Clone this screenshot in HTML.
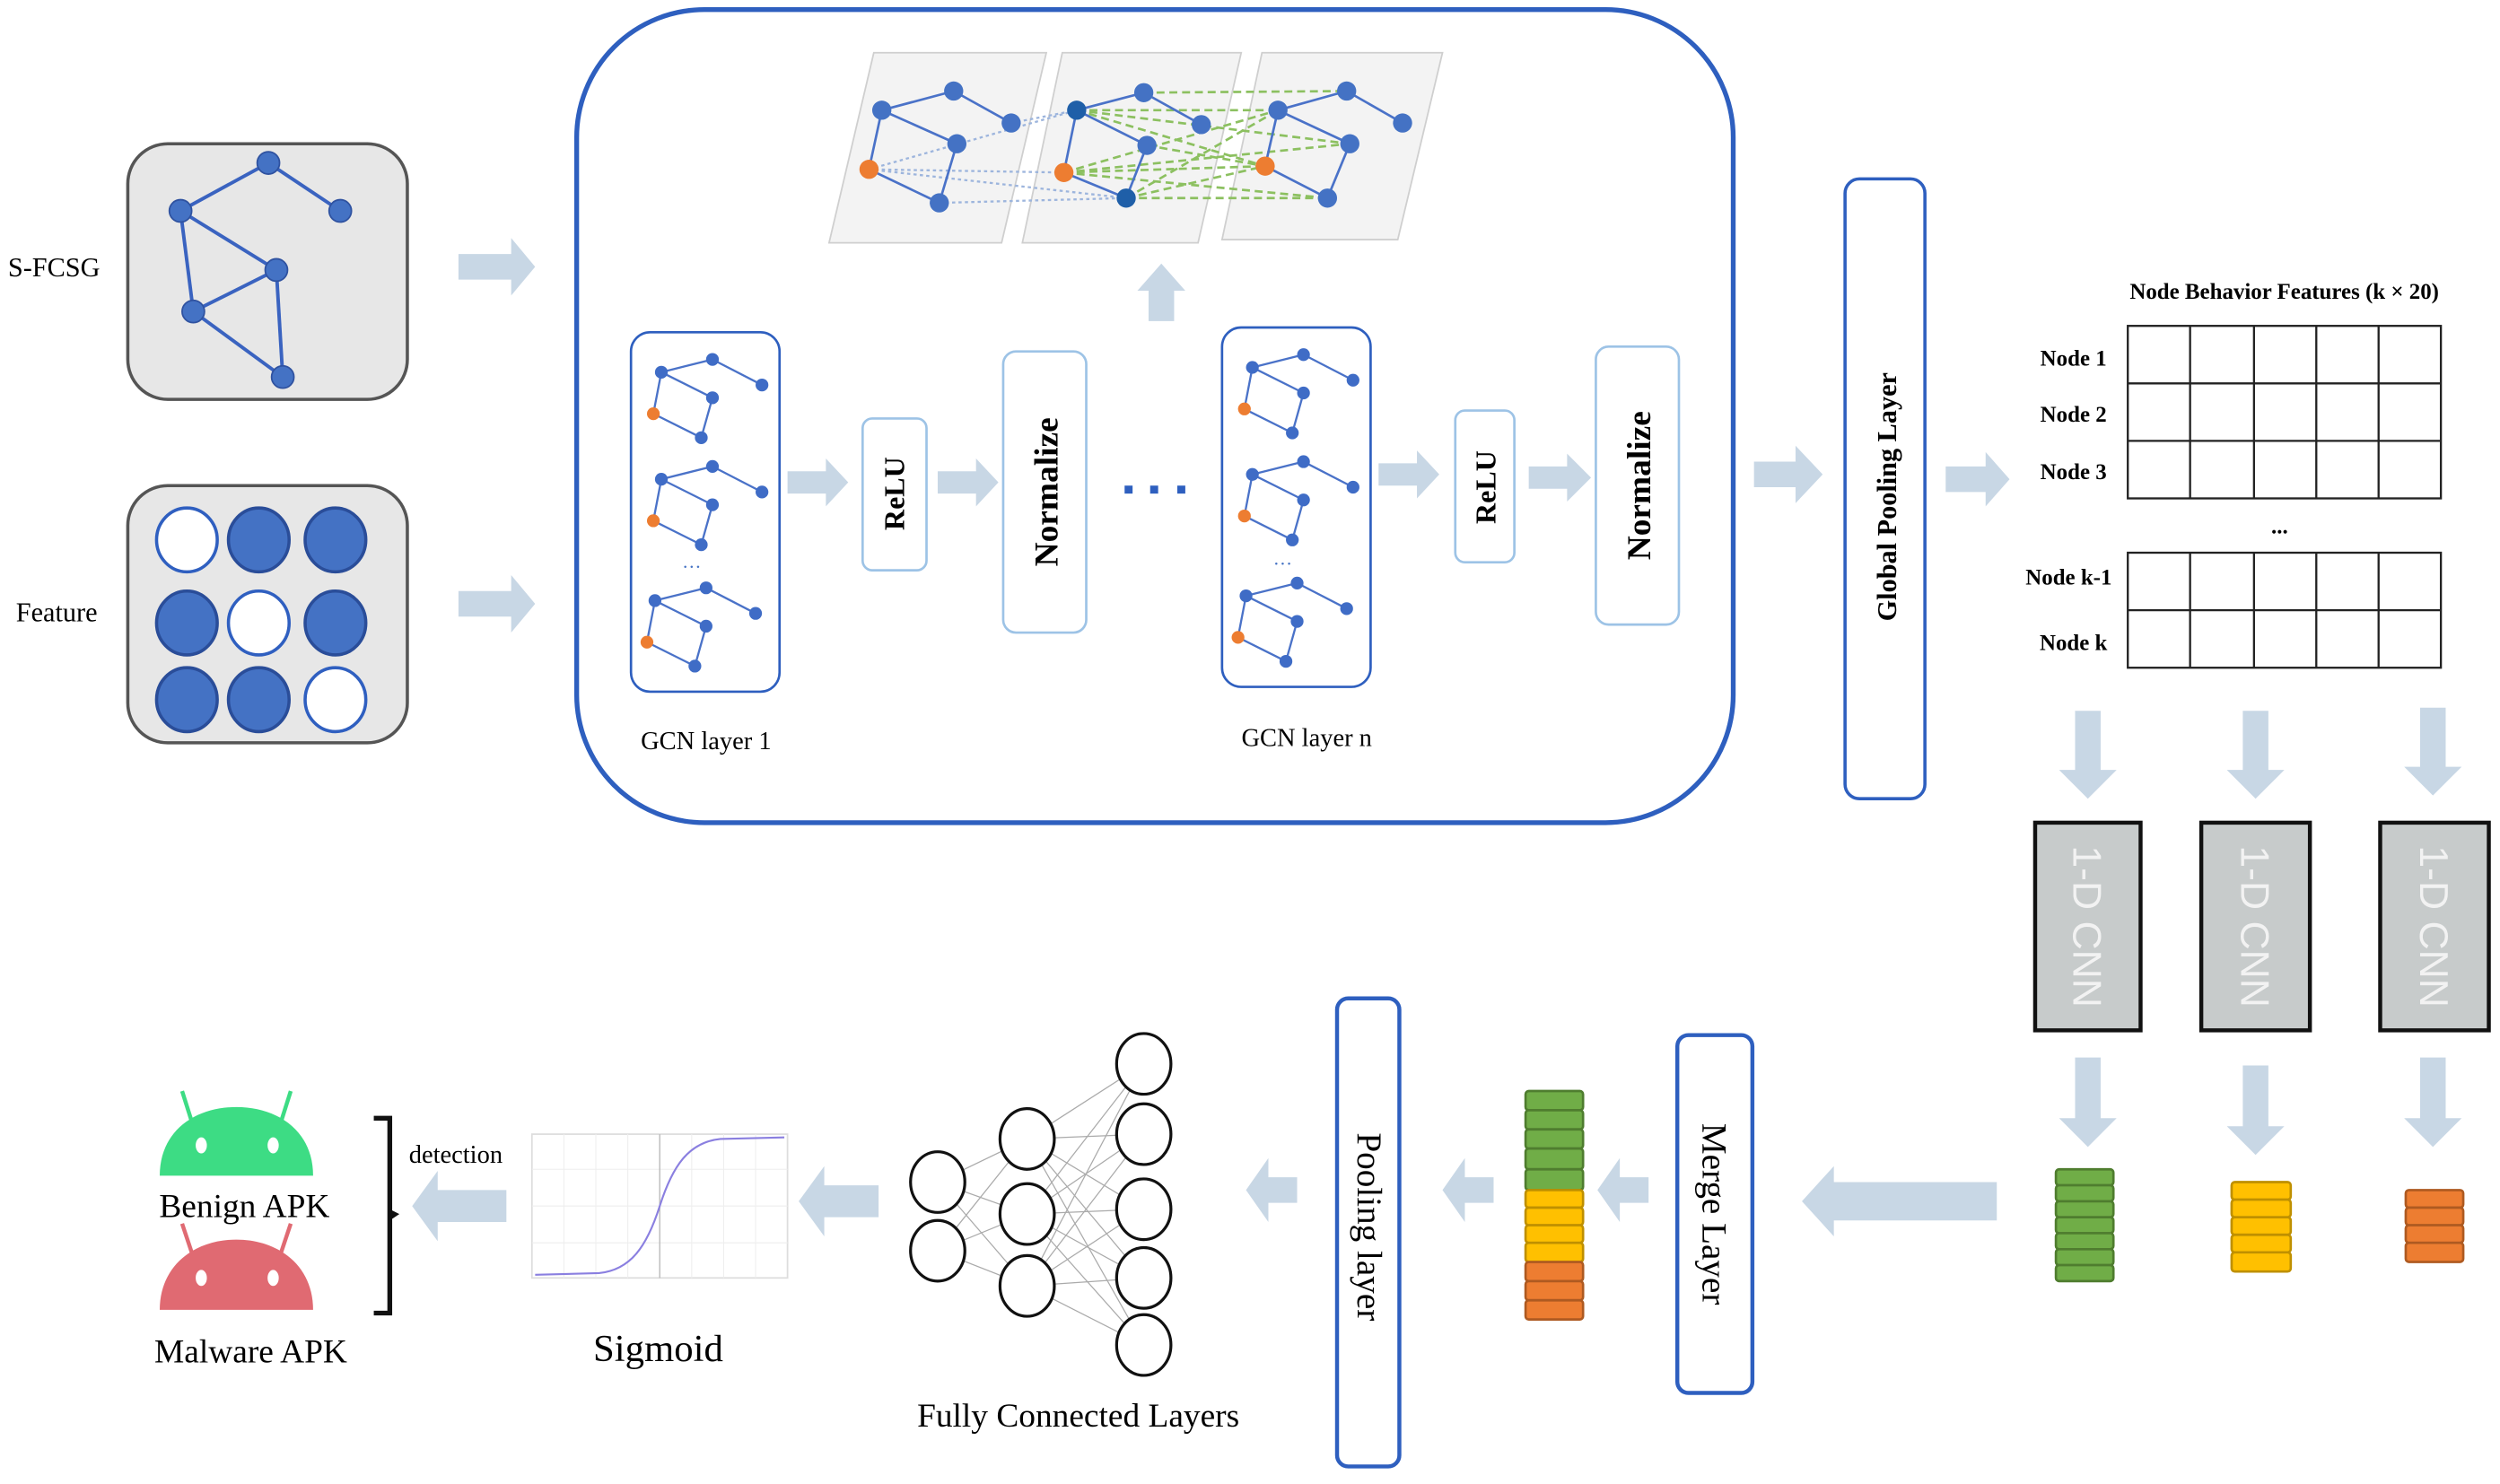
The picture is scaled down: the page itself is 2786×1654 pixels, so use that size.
<!DOCTYPE html>
<html><head><meta charset="utf-8"><style>html,body{margin:0;padding:0;background:#fff}svg{display:block}</style></head>
<body>
<svg width="2786" height="1654" viewBox="0 0 1565 929" preserveAspectRatio="none" xmlns="http://www.w3.org/2000/svg" font-family="Liberation Serif, serif">
<defs>
<g id="sg">
<g stroke="#4a72c8" stroke-width="1.3" fill="none">
<line x1="0" y1="0" x2="32" y2="-8"/><line x1="32" y1="-8" x2="63" y2="8"/><line x1="0" y1="0" x2="32" y2="16"/><line x1="0" y1="0" x2="-5" y2="26"/><line x1="32" y1="16" x2="25" y2="41"/><line x1="-5" y1="26" x2="25" y2="41"/>
</g>
<g fill="#3f6cc6"><circle cx="0" cy="0" r="4"/><circle cx="32" cy="-8" r="4"/><circle cx="63" cy="8" r="4"/><circle cx="32" cy="16" r="4"/><circle cx="25" cy="41" r="4"/></g>
<circle cx="-5" cy="26" r="4" fill="#ed7d31"/>
</g>
</defs>
<!-- left boxes -->
<text x="5" y="173" font-size="17">S-FCSG</text>
<rect x="80" y="90" width="175" height="160" rx="25" fill="#e7e7e7" stroke="#555" stroke-width="2"/>
<g stroke="#3a63c0" stroke-width="2.2">
<line x1="113" y1="132" x2="168" y2="102"/><line x1="168" y1="102" x2="213" y2="132"/><line x1="113" y1="132" x2="173" y2="169"/><line x1="113" y1="132" x2="121" y2="195"/><line x1="173" y1="169" x2="121" y2="195"/><line x1="173" y1="169" x2="177" y2="236"/><line x1="121" y1="195" x2="177" y2="236"/>
</g>
<g fill="#4472c4" stroke="#2f52a0" stroke-width="1"><circle cx="168" cy="102" r="7"/><circle cx="113" cy="132" r="7"/><circle cx="213" cy="132" r="7"/><circle cx="173" cy="169" r="7"/><circle cx="121" cy="195" r="7"/><circle cx="177" cy="236" r="7"/></g>
<text x="10" y="389" font-size="17">Feature</text>
<rect x="80" y="304" width="175" height="161" rx="25" fill="#e7e7e7" stroke="#555" stroke-width="2"/>
<g stroke="#2f5fc0" stroke-width="2">
<ellipse cx="117" cy="338" rx="19" ry="20" fill="#fff"/><ellipse cx="162" cy="338" rx="19" ry="20" fill="#4472c4" stroke="#2a4d99"/><ellipse cx="210" cy="338" rx="19" ry="20" fill="#4472c4" stroke="#2a4d99"/>
<ellipse cx="117" cy="390" rx="19" ry="20" fill="#4472c4" stroke="#2a4d99"/><ellipse cx="162" cy="390" rx="19" ry="20" fill="#fff"/><ellipse cx="210" cy="390" rx="19" ry="20" fill="#4472c4" stroke="#2a4d99"/>
<ellipse cx="117" cy="438" rx="19" ry="20" fill="#4472c4" stroke="#2a4d99"/><ellipse cx="162" cy="438" rx="19" ry="20" fill="#4472c4" stroke="#2a4d99"/><ellipse cx="210" cy="438" rx="19" ry="20" fill="#fff"/>
</g>
<!-- arrows -->
<g fill="#c8d7e5">
<path d="M287 159H320V149L335 167L320 185V175H287Z"/>
<path d="M287 370H320V360L335 378L320 396V386H287Z"/>
<path d="M493 295H517V287L531 302L517 317V309H493Z"/>
<path d="M587 295H611V287L625 302L611 317V309H587Z"/>
<path d="M863 290H887V282L901 297L887 312V304H863Z"/>
<path d="M957 292H981V284L996 299L981 314V306H957Z"/>
<path d="M1098 289H1124V279L1141 297L1124 315V305H1098Z"/>
<path d="M1218 292H1243V283L1258 300L1243 317V308H1218Z"/>
<path d="M719 201V182H712L727 165L742 182H735V201Z"/>
<path d="M1299 445V482H1289L1307 500L1325 482H1315V445Z"/>
<path d="M1404 445V482H1394L1412 500L1430 482H1420V445Z"/>
<path d="M1515 443V480H1505L1523 498L1541 480H1531V443Z"/>
<path d="M1299 662V700H1289L1307 718L1325 700H1315V662Z"/>
<path d="M1404 667V705H1394L1412 723L1430 705H1420V667Z"/>
<path d="M1515 662V700H1505L1523 718L1541 700H1531V662Z"/>
<path d="M1250 740H1148V730L1128 752L1148 774V764H1250Z"/>
<path d="M1032 737H1014V725L1000 745L1014 765V753H1032Z"/>
<path d="M935 737H917V725L903 745L917 765V753H935Z"/>
<path d="M812 737H794V725L780 745L794 765V753H812Z"/>
<path d="M550 742H516V730L500 752L516 774V762H550Z"/>
<path d="M317 745H274V733L258 755L274 777V765H317Z"/>
</g>
<!-- big rounded box -->
<rect x="361" y="6" width="724" height="509" rx="80" fill="none" stroke="#2e5fbf" stroke-width="3"/>
<!-- planes -->
<g fill="#f3f3f3" stroke="#cfcfcf" stroke-width="1">
<path d="M547 33H655L627 152H519Z"/><path d="M665 33H777L750 152H640Z"/><path d="M790 33H903L875 150H765Z"/>
</g>
<g stroke="#9db5dd" stroke-width="1.3" stroke-dasharray="2,2" fill="none">
<line x1="544" y1="106" x2="674" y2="69"/><line x1="544" y1="106" x2="666" y2="108"/><line x1="544" y1="106" x2="705" y2="124"/><line x1="633" y1="77" x2="674" y2="69"/><line x1="588" y1="127" x2="705" y2="124"/>
</g>
<g stroke="#8cc060" stroke-width="1.5" stroke-dasharray="5,3" fill="none">
<line x1="674" y1="69" x2="800" y2="69"/><line x1="674" y1="69" x2="792" y2="104"/><line x1="674" y1="69" x2="845" y2="90"/><line x1="666" y1="108" x2="800" y2="69"/><line x1="666" y1="108" x2="792" y2="104"/><line x1="666" y1="108" x2="845" y2="90"/><line x1="666" y1="108" x2="831" y2="124"/><line x1="705" y1="124" x2="792" y2="104"/><line x1="705" y1="124" x2="831" y2="124"/><line x1="705" y1="124" x2="800" y2="69"/><line x1="716" y1="58" x2="843" y2="57"/><line x1="718" y1="91" x2="792" y2="104"/>
</g>
<g stroke="#4a72c8" stroke-width="1.5">
<line x1="552" y1="69" x2="597" y2="57"/><line x1="597" y1="57" x2="633" y2="77"/><line x1="552" y1="69" x2="599" y2="90"/><line x1="552" y1="69" x2="544" y2="106"/><line x1="599" y1="90" x2="588" y2="127"/><line x1="544" y1="106" x2="588" y2="127"/>
<line x1="674" y1="69" x2="716" y2="58"/><line x1="716" y1="58" x2="752" y2="78"/><line x1="674" y1="69" x2="718" y2="91"/><line x1="674" y1="69" x2="666" y2="108"/><line x1="718" y1="91" x2="705" y2="124"/><line x1="666" y1="108" x2="705" y2="124"/>
<line x1="800" y1="69" x2="843" y2="57"/><line x1="843" y1="57" x2="878" y2="77"/><line x1="800" y1="69" x2="845" y2="90"/><line x1="800" y1="69" x2="792" y2="104"/><line x1="845" y1="90" x2="831" y2="124"/><line x1="792" y1="104" x2="831" y2="124"/>
</g>
<g fill="#4472c4"><circle cx="552" cy="69" r="6"/><circle cx="597" cy="57" r="6"/><circle cx="633" cy="77" r="6"/><circle cx="599" cy="90" r="6"/><circle cx="588" cy="127" r="6"/>
<circle cx="716" cy="58" r="6"/><circle cx="752" cy="78" r="6"/><circle cx="718" cy="91" r="6"/>
<circle cx="843" cy="57" r="6"/><circle cx="878" cy="77" r="6"/><circle cx="800" cy="69" r="6"/><circle cx="845" cy="90" r="6"/><circle cx="831" cy="124" r="6"/></g>
<g fill="#1f5fa8"><circle cx="674" cy="69" r="6"/><circle cx="705" cy="124" r="6"/></g>
<g fill="#ed7d31"><circle cx="544" cy="106" r="6"/><circle cx="666" cy="108" r="6"/><circle cx="792" cy="104" r="6"/></g>
<!-- GCN boxes -->
<rect x="395" y="208" width="93" height="225" rx="12" fill="#fff" stroke="#2e5fbf" stroke-width="1.5"/>
<use href="#sg" x="414" y="233"/><use href="#sg" x="414" y="300"/><use href="#sg" x="410" y="376"/>
<text x="427" y="359" font-size="12" fill="#4472c4">···</text>
<rect x="765" y="205" width="93" height="225" rx="12" fill="#fff" stroke="#2e5fbf" stroke-width="1.5"/>
<use href="#sg" x="784" y="230"/><use href="#sg" x="784" y="297"/><use href="#sg" x="780" y="373"/>
<text x="797" y="357" font-size="12" fill="#4472c4">···</text>
<text x="442" y="469" font-size="16" text-anchor="middle">GCN layer 1</text>
<text x="818" y="467" font-size="16" text-anchor="middle">GCN layer n</text>
<g fill="#fff" stroke="#9dc3e6" stroke-width="1.5">
<rect x="540" y="262" width="40" height="95" rx="6"/><rect x="628" y="220" width="52" height="176" rx="8"/>
<rect x="911" y="257" width="37" height="95" rx="6"/><rect x="999" y="217" width="52" height="174" rx="8"/>
</g>
<g font-weight="bold" text-anchor="middle">
<text transform="translate(566,309) rotate(-90)" font-size="18">ReLU</text>
<text transform="translate(662,308) rotate(-90)" font-size="21">Normalize</text>
<text transform="translate(936,305) rotate(-90)" font-size="18">ReLU</text>
<text transform="translate(1033,304) rotate(-90)" font-size="21">Normalize</text>
</g>
<g fill="#2e5fbf"><rect x="704" y="304" width="5" height="5"/><rect x="720" y="304" width="5" height="5"/><rect x="737" y="304" width="5" height="5"/></g>
<!-- global pooling -->
<rect x="1155" y="112" width="50" height="388" rx="9" fill="#fff" stroke="#2e5fbf" stroke-width="2"/>
<text transform="translate(1187,311) rotate(-90)" font-size="17" font-weight="bold" text-anchor="middle">Global Pooling Layer</text>
<!-- table -->
<text x="1430" y="187" font-size="14" font-weight="bold" text-anchor="middle">Node Behavior Features (k × 20)</text>
<g fill="none" stroke="#222" stroke-width="1.3">
<rect x="1332" y="204" width="196" height="108"/><line x1="1332" y1="240" x2="1528" y2="240"/><line x1="1332" y1="276" x2="1528" y2="276"/>
<rect x="1332" y="346" width="196" height="72"/><line x1="1332" y1="382" x2="1528" y2="382"/>
<line x1="1371" y1="204" x2="1371" y2="312"/><line x1="1411" y1="204" x2="1411" y2="312"/><line x1="1450" y1="204" x2="1450" y2="312"/><line x1="1489" y1="204" x2="1489" y2="312"/>
<line x1="1371" y1="346" x2="1371" y2="418"/><line x1="1411" y1="346" x2="1411" y2="418"/><line x1="1450" y1="346" x2="1450" y2="418"/><line x1="1489" y1="346" x2="1489" y2="418"/>
</g>
<g font-size="14" font-weight="bold" text-anchor="middle">
<text x="1298" y="229">Node 1</text><text x="1298" y="264">Node 2</text><text x="1298" y="300">Node 3</text>
<text x="1295" y="366">Node k-1</text><text x="1298" y="407">Node k</text>
<text x="1427" y="334">...</text>
</g>
<!-- CNN boxes -->
<g fill="#c7cbcb" stroke="#111" stroke-width="2.5">
<rect x="1274" y="515" width="66" height="130"/><rect x="1378" y="515" width="68" height="130"/><rect x="1490" y="515" width="68" height="130"/>
</g>
<g fill="#f2f2f2" font-family="Liberation Sans, sans-serif" font-size="25" text-anchor="middle">
<text transform="translate(1298,580) rotate(90)">1-D CNN</text>
<text transform="translate(1403,580) rotate(90)">1-D CNN</text>
<text transform="translate(1515,580) rotate(90)">1-D CNN</text>
</g>
<!-- stacks -->
<g fill="#70ad47" stroke="#4f7d2f" stroke-width="1.5">
<rect x="1287" y="732" width="36" height="10" rx="2"/><rect x="1287" y="742" width="36" height="10" rx="2"/><rect x="1287" y="752" width="36" height="10" rx="2"/><rect x="1287" y="762" width="36" height="10" rx="2"/><rect x="1287" y="772" width="36" height="10" rx="2"/><rect x="1287" y="782" width="36" height="10" rx="2"/><rect x="1287" y="792" width="36" height="10" rx="2"/>
<rect x="955" y="683" width="36" height="12" rx="2"/><rect x="955" y="695" width="36" height="12" rx="2"/><rect x="955" y="707" width="36" height="12" rx="2"/><rect x="955" y="719" width="36" height="13" rx="2"/><rect x="955" y="732" width="36" height="13" rx="2"/>
</g>
<g fill="#ffc000" stroke="#bf9000" stroke-width="1.5">
<rect x="1397" y="740" width="37" height="11" rx="2"/><rect x="1397" y="751" width="37" height="11" rx="2"/><rect x="1397" y="762" width="37" height="11" rx="2"/><rect x="1397" y="773" width="37" height="11" rx="2"/><rect x="1397" y="784" width="37" height="12" rx="2"/>
<rect x="955" y="745" width="36" height="11" rx="2"/><rect x="955" y="756" width="36" height="11" rx="2"/><rect x="955" y="767" width="36" height="11" rx="2"/><rect x="955" y="778" width="36" height="12" rx="2"/>
</g>
<g fill="#ed7d31" stroke="#ae5a21" stroke-width="1.5">
<rect x="1506" y="745" width="36" height="11" rx="2"/><rect x="1506" y="756" width="36" height="11" rx="2"/><rect x="1506" y="767" width="36" height="11" rx="2"/><rect x="1506" y="778" width="36" height="12" rx="2"/>
<rect x="955" y="790" width="36" height="12" rx="2"/><rect x="955" y="802" width="36" height="12" rx="2"/><rect x="955" y="814" width="36" height="12" rx="2"/>
</g>
<!-- merge & pooling -->
<rect x="1050" y="648" width="47" height="224" rx="7" fill="#fff" stroke="#2e5fbf" stroke-width="2.5"/>
<text transform="translate(1066,760) rotate(90)" font-size="22" text-anchor="middle">Merge Layer</text>
<rect x="837" y="625" width="39" height="293" rx="7" fill="#fff" stroke="#2e5fbf" stroke-width="2.5"/>
<text transform="translate(850,768) rotate(90)" font-size="22" text-anchor="middle">Pooling layer</text>
<!-- FC network -->
<g stroke="#aaa" stroke-width="0.7">
<line x1="587" y1="740" x2="643" y2="713"/><line x1="587" y1="740" x2="643" y2="760"/><line x1="587" y1="740" x2="643" y2="805"/>
<line x1="587" y1="783" x2="643" y2="713"/><line x1="587" y1="783" x2="643" y2="760"/><line x1="587" y1="783" x2="643" y2="805"/>
<line x1="643" y1="713" x2="716" y2="666"/><line x1="643" y1="713" x2="716" y2="710"/><line x1="643" y1="713" x2="716" y2="757"/><line x1="643" y1="713" x2="716" y2="800"/><line x1="643" y1="713" x2="716" y2="842"/>
<line x1="643" y1="760" x2="716" y2="666"/><line x1="643" y1="760" x2="716" y2="710"/><line x1="643" y1="760" x2="716" y2="757"/><line x1="643" y1="760" x2="716" y2="800"/><line x1="643" y1="760" x2="716" y2="842"/>
<line x1="643" y1="805" x2="716" y2="666"/><line x1="643" y1="805" x2="716" y2="710"/><line x1="643" y1="805" x2="716" y2="757"/><line x1="643" y1="805" x2="716" y2="800"/><line x1="643" y1="805" x2="716" y2="842"/>
</g>
<g fill="#fff" stroke="#111" stroke-width="1.8">
<ellipse cx="587" cy="740" rx="17" ry="19"/><ellipse cx="587" cy="783" rx="17" ry="19"/>
<ellipse cx="643" cy="713" rx="17" ry="19"/><ellipse cx="643" cy="760" rx="17" ry="19"/><ellipse cx="643" cy="805" rx="17" ry="19"/>
<ellipse cx="716" cy="666" rx="17" ry="19"/><ellipse cx="716" cy="710" rx="17" ry="19"/><ellipse cx="716" cy="757" rx="17" ry="19"/><ellipse cx="716" cy="800" rx="17" ry="19"/><ellipse cx="716" cy="842" rx="17" ry="19"/>
</g>
<text x="675" y="893" font-size="21" text-anchor="middle">Fully Connected Layers</text>
<!-- sigmoid -->
<rect x="333" y="710" width="160" height="90" fill="#fff" stroke="#ddd" stroke-width="1"/>
<g stroke="#eee" stroke-width="0.6"><line x1="353" y1="710" x2="353" y2="800"/><line x1="373" y1="710" x2="373" y2="800"/><line x1="393" y1="710" x2="393" y2="800"/><line x1="433" y1="710" x2="433" y2="800"/><line x1="453" y1="710" x2="453" y2="800"/><line x1="473" y1="710" x2="473" y2="800"/><line x1="333" y1="732" x2="493" y2="732"/><line x1="333" y1="755" x2="493" y2="755"/><line x1="333" y1="778" x2="493" y2="778"/></g>
<line x1="413" y1="710" x2="413" y2="800" stroke="#bbb" stroke-width="0.8"/>
<path d="M335 798 L375 797 C395 795 405 780 413 755 C421 730 431 715 451 713 L491 712" fill="none" stroke="#8a7fe0" stroke-width="1.2"/>
<text x="412" y="852" font-size="24" text-anchor="middle">Sigmoid</text>
<!-- detection -->
<text x="256" y="728" font-size="16">detection</text>
<path d="M234 700 H244 V822 H234" fill="none" stroke="#111" stroke-width="3"/>
<path d="M244 757 L250 760 L244 764Z" fill="#111"/>
<!-- androids -->
<g stroke="#3ddc84" stroke-width="2.5"><line x1="120" y1="702" x2="114" y2="683"/><line x1="176" y1="702" x2="182" y2="683"/></g>
<path d="M100 736 C100 708 122 693 148 693 C174 693 196 708 196 736 Z" fill="#3ddc84"/>
<ellipse cx="126" cy="717" rx="3.5" ry="5" fill="#fff"/><ellipse cx="171" cy="717" rx="3.5" ry="5" fill="#fff"/>
<text x="153" y="762" font-size="21" text-anchor="middle">Benign APK</text>
<g stroke="#e06a72" stroke-width="2.5"><line x1="120" y1="784" x2="114" y2="766"/><line x1="176" y1="784" x2="182" y2="766"/></g>
<path d="M100 820 C100 792 122 776 148 776 C174 776 196 792 196 820 Z" fill="#e06a72"/>
<ellipse cx="126" cy="800" rx="3.5" ry="5" fill="#fff"/><ellipse cx="171" cy="800" rx="3.5" ry="5" fill="#fff"/>
<text x="157" y="853" font-size="21" text-anchor="middle">Malware APK</text>
</svg>
</body></html>
